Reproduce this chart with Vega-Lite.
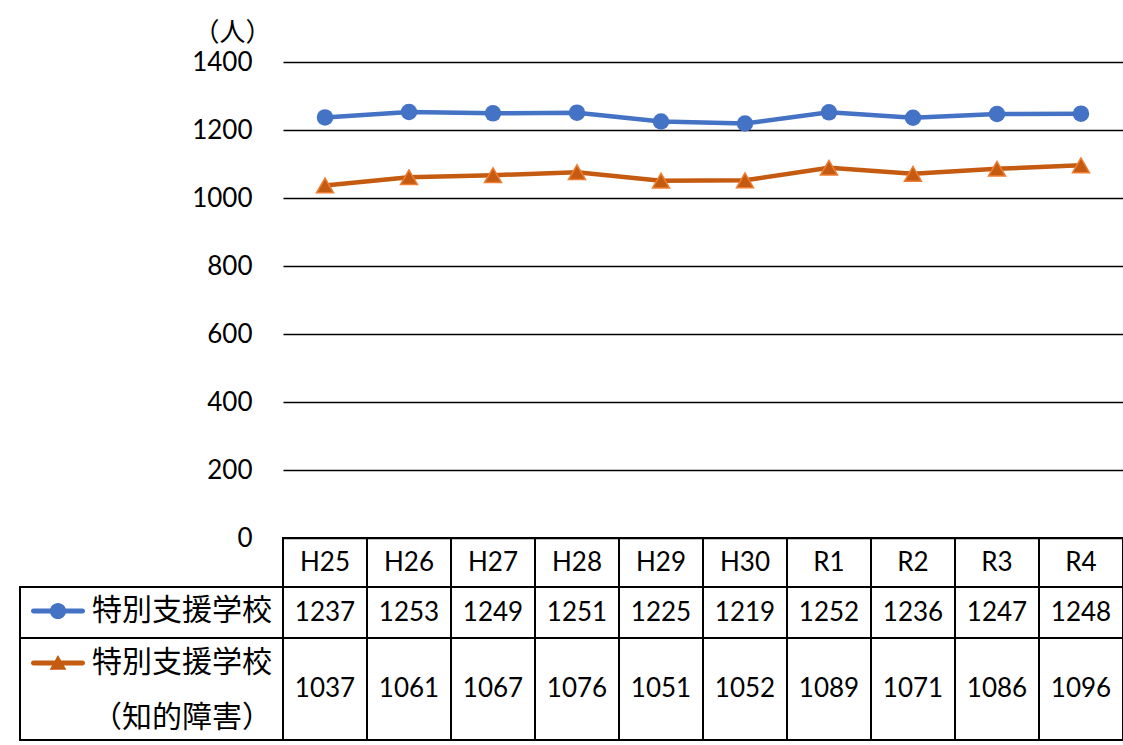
{
  "$schema": "https://vega.github.io/schema/vega-lite/v6.json",
  "padding": {"left": 19, "top": 19, "right": 0, "bottom": 0},
  "background": "white",
  "config": {"view": {"stroke": null}},
  "datasets": {
    "d": [
      {"year": "H25", "series": "特別支援学校", "value": 1237},
      {"year": "H26", "series": "特別支援学校", "value": 1253},
      {"year": "H27", "series": "特別支援学校", "value": 1249},
      {"year": "H28", "series": "特別支援学校", "value": 1251},
      {"year": "H29", "series": "特別支援学校", "value": 1225},
      {"year": "H30", "series": "特別支援学校", "value": 1219},
      {"year": "R1", "series": "特別支援学校", "value": 1252},
      {"year": "R2", "series": "特別支援学校", "value": 1236},
      {"year": "R3", "series": "特別支援学校", "value": 1247},
      {"year": "R4", "series": "特別支援学校", "value": 1248},
      {"year": "H25", "series": "特別支援学校（知的障害）", "value": 1037},
      {"year": "H26", "series": "特別支援学校（知的障害）", "value": 1061},
      {"year": "H27", "series": "特別支援学校（知的障害）", "value": 1067},
      {"year": "H28", "series": "特別支援学校（知的障害）", "value": 1076},
      {"year": "H29", "series": "特別支援学校（知的障害）", "value": 1051},
      {"year": "H30", "series": "特別支援学校（知的障害）", "value": 1052},
      {"year": "R1", "series": "特別支援学校（知的障害）", "value": 1089},
      {"year": "R2", "series": "特別支援学校（知的障害）", "value": 1071},
      {"year": "R3", "series": "特別支援学校（知的障害）", "value": 1086},
      {"year": "R4", "series": "特別支援学校（知的障害）", "value": 1096}
    ]
  },
  "columns": 2,
  "spacing": 0,
  "bounds": "flush",
  "resolve": {"scale": {"color": "independent"}, "legend": {"color": "independent"}},
  "concat": [
    {"width": 263, "height": 476, "data": {"values": [{}]}, "mark": "text"},
    {
      "width": 840,
      "height": 476,
      "data": {"name": "d"},
      "encoding": {
        "x": {"field": "year", "type": "ordinal", "sort": null, "scale": {"type": "point", "padding": 0.5}, "axis": null},
        "y": {
          "field": "value",
          "type": "quantitative",
          "scale": {"domain": [0, 1400], "nice": false},
          "axis": {
            "values": [0, 200, 400, 600, 800, 1000, 1200, 1400],
            "format": "d",
            "grid": true,
            "gridColor": "#000",
            "gridWidth": 1.5,
            "domain": false,
            "ticks": false,
            "labelFont": "Lato",
            "labelFontSize": 26,
            "labelColor": "#000",
            "labelPadding": 31,
            "title": "（人）",
            "titleFont": "Noto Sans CJK JP",
            "titleFontSize": 26,
            "titleFontWeight": "normal",
            "titleColor": "#000",
            "titleAngle": 0,
            "titleAlign": "center",
            "titleBaseline": "middle",
            "titleX": -51,
            "titleY": -30
          }
        }
      },
      "layer": [
        {
          "mark": {"type": "line", "strokeWidth": 4.5, "strokeCap": "round", "strokeJoin": "round"},
          "encoding": {
            "color": {"field": "series", "type": "nominal", "sort": null,
              "scale": {"domain": ["特別支援学校", "特別支援学校（知的障害）"], "range": ["#4472C4", "#C55A11"]},
              "legend": null}
          }
        },
        {
          "transform": [{"filter": "datum.series === '特別支援学校'"}],
          "mark": {"type": "point", "shape": "circle", "filled": true, "size": 272, "color": "#4472C4", "opacity": 1}
        },
        {
          "transform": [{"filter": "datum.series !== '特別支援学校'"}],
          "mark": {"type": "point", "shape": "triangle-up", "filled": true, "size": 289, "fill": "#C55A11", "stroke": "#ED7D31", "strokeWidth": 1.5, "opacity": 1}
        }
      ]
    },
    {"width": 263, "height": 49, "data": {"values": [{}]}, "mark": "text"},
    {
      "width": 840,
      "height": 49,
      "data": {"name": "d"},
      "transform": [{"filter": "datum.series === '特別支援学校'"}],
      "encoding": {
        "x": {"field": "year", "type": "ordinal", "sort": null, "scale": {"type": "band", "paddingInner": 0, "paddingOuter": 0}, "axis": null}
      },
      "layer": [
        {"mark": {"type": "rect", "fillOpacity": 0, "stroke": "#000", "strokeWidth": 2}},
        {"mark": {"type": "text", "font": "Lato", "fontSize": 26, "color": "#000", "baseline": "middle"}, "encoding": {"text": {"field": "year"}}}
      ]
    },
    {
      "width": 263,
      "height": 51,
      "data": {"name": "d"},
      "transform": [{"filter": "datum.series === '特別支援学校'"}],
      "view": {"stroke": "#000", "strokeWidth": 2},
      "mark": {"type": "point", "filled": true, "size": 0},
      "encoding": {
        "color": {
          "field": "series", "type": "nominal",
          "scale": {"range": ["#4472C4"]},
          "legend": {
            "orient": "none", "legendX": 11, "legendY": -3, "title": null, "padding": 0,
            "symbolType": "M-0.91,-0.09L0.91,-0.09A0.09,0.09,0,0,1,0.91,0.09L-0.91,0.09A0.09,0.09,0,0,1,-0.91,-0.09Z M0.3,0A0.3,0.3,0,1,1,-0.3,0A0.3,0.3,0,1,1,0.3,0Z",
            "symbolSize": 2916, "symbolStrokeWidth": 0, "symbolFillColor": "#4472C4", "symbolOpacity": 1,
            "labelFont": "Noto Sans CJK JP", "labelFontSize": 30, "labelColor": "#000", "labelOffset": 7, "labelLimit": 400
          }
        }
      }
    },
    {
      "width": 840,
      "height": 51,
      "data": {"name": "d"},
      "transform": [{"filter": "datum.series === '特別支援学校'"}],
      "encoding": {
        "x": {"field": "year", "type": "ordinal", "sort": null, "scale": {"type": "band", "paddingInner": 0, "paddingOuter": 0}, "axis": null}
      },
      "layer": [
        {"mark": {"type": "rect", "fillOpacity": 0, "stroke": "#000", "strokeWidth": 2}},
        {"mark": {"type": "text", "font": "Lato", "fontSize": 26, "color": "#000", "baseline": "middle"}, "encoding": {"text": {"field": "value"}}}
      ]
    },
    {
      "width": 263,
      "height": 102,
      "data": {"name": "d"},
      "transform": [{"filter": "datum.series !== '特別支援学校'"}],
      "view": {"stroke": "#000", "strokeWidth": 2},
      "mark": {"type": "point", "filled": true, "size": 0},
      "encoding": {
        "color": {
          "field": "series", "type": "nominal",
          "scale": {"range": ["#C55A11"]},
          "legend": {
            "orient": "none", "legendX": 11, "legendY": -2, "padding": 0,
            "title": "（知的障害）", "titleOrient": "bottom", "titleAnchor": "end",
            "titleFont": "Noto Sans CJK JP", "titleFontSize": 30, "titleFontWeight": "normal", "titleColor": "#000", "titlePadding": 25, "titleLimit": 400,
            "labelExpr": "replace(datum.label, '（知的障害）', '')",
            "symbolType": "M-0.91,-0.09L0.91,-0.09A0.09,0.09,0,0,1,0.91,0.09L-0.91,0.09A0.09,0.09,0,0,1,-0.91,-0.09Z M0,-0.3L0.31,0.25L-0.31,0.25Z",
            "symbolSize": 2916, "symbolStrokeWidth": 0, "symbolFillColor": "#C55A11", "symbolOpacity": 1,
            "labelFont": "Noto Sans CJK JP", "labelFontSize": 30, "labelColor": "#000", "labelOffset": 7, "labelLimit": 400
          }
        }
      }
    },
    {
      "width": 840,
      "height": 102,
      "data": {"name": "d"},
      "transform": [{"filter": "datum.series !== '特別支援学校'"}],
      "encoding": {
        "x": {"field": "year", "type": "ordinal", "sort": null, "scale": {"type": "band", "paddingInner": 0, "paddingOuter": 0}, "axis": null}
      },
      "layer": [
        {"mark": {"type": "rect", "fillOpacity": 0, "stroke": "#000", "strokeWidth": 2}},
        {"mark": {"type": "text", "font": "Lato", "fontSize": 26, "color": "#000", "baseline": "middle"}, "encoding": {"text": {"field": "value"}}}
      ]
    }
  ]
}
